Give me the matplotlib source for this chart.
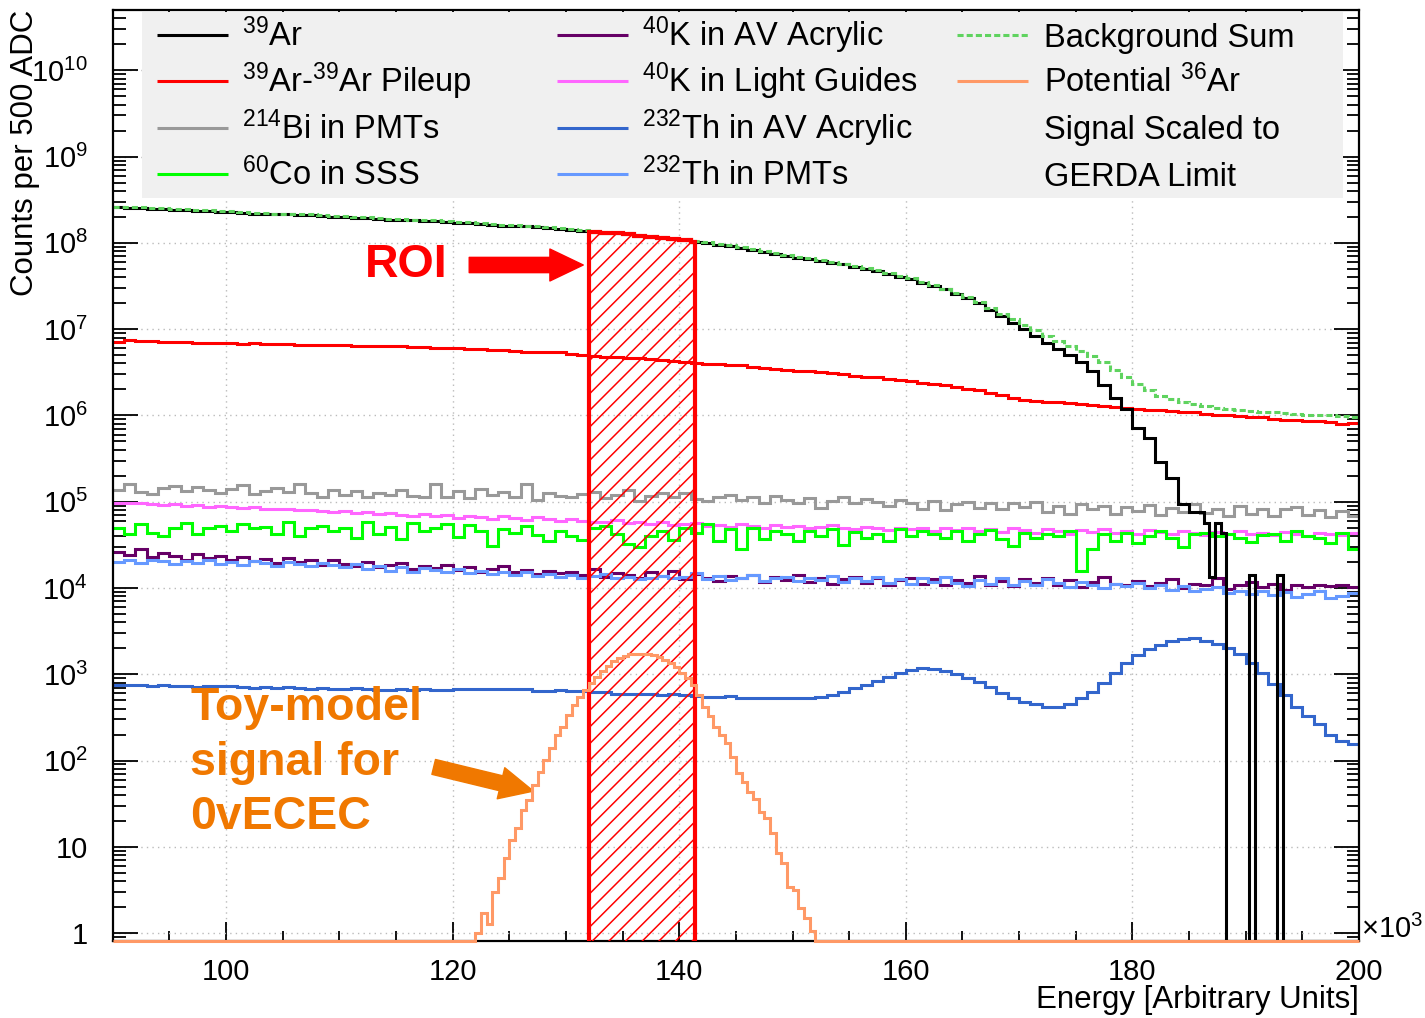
import numpy as np
import matplotlib
matplotlib.use('Agg')
import matplotlib.pyplot as plt
from matplotlib.patches import Rectangle
from matplotlib.ticker import MultipleLocator, LogLocator, FuncFormatter, NullFormatter

# Values are log10(counts per bin).
# Most spectra use 1-unit bins (x10^3) from 90 to 200.
ar39_log = [8.41, 8.40, 8.40, 8.39, 8.39, 8.38, 8.38, 8.37, 8.37, 8.36,
            8.36, 8.35, 8.34, 8.34, 8.33, 8.33, 8.32, 8.32, 8.31, 8.30,
            8.30, 8.29, 8.29, 8.28, 8.27, 8.27, 8.26, 8.25, 8.25, 8.24,
            8.23, 8.23, 8.22, 8.21, 8.20, 8.20, 8.19, 8.18, 8.17, 8.16,
            8.15, 8.14, 8.13, 8.12, 8.11, 8.10, 8.08, 8.07, 8.06, 8.04,
            8.03, 8.01, 8.00, 7.98, 7.96, 7.94, 7.92, 7.89, 7.87, 7.85,
            7.83, 7.81, 7.79, 7.77, 7.75, 7.72, 7.70, 7.67, 7.64, 7.61,
            7.58, 7.54, 7.50, 7.46, 7.41, 7.36, 7.30, 7.22, 7.15, 7.07,
            7.00, 6.92, 6.84, 6.77, 6.70, 6.62, 6.52, 6.35, 6.20, 6.08,
            5.85, 5.74, 5.46, 5.28, 4.97, 4.88]
# 39Ar tail in fine bins starting at 186.3 (nan = empty bin)
nan = np.nan
ar39_tail_log = [4.75, 4.13, 4.75, 4.64, nan, nan, nan, nan, 4.15, nan,
                 nan, nan, nan, 4.15, nan, nan, nan, nan, nan, nan,
                 nan, nan, nan, nan, nan, nan, nan, nan]

pileup_log = [6.85, 6.87, 6.86, 6.86, 6.85, 6.85, 6.85, 6.84, 6.84, 6.84,
              6.84, 6.83, 6.84, 6.83, 6.83, 6.83, 6.82, 6.82, 6.82, 6.82,
              6.82, 6.81, 6.81, 6.80, 6.80, 6.80, 6.79, 6.79, 6.78, 6.78,
              6.78, 6.77, 6.77, 6.76, 6.76, 6.75, 6.74, 6.74, 6.73, 6.73,
              6.71, 6.70, 6.69, 6.68, 6.68, 6.67, 6.66, 6.65, 6.64, 6.63,
              6.62, 6.61, 6.60, 6.60, 6.59, 6.58, 6.56, 6.55, 6.54, 6.53,
              6.52, 6.51, 6.50, 6.49, 6.48, 6.46, 6.45, 6.44, 6.42, 6.41,
              6.40, 6.38, 6.36, 6.35, 6.33, 6.31, 6.29, 6.26, 6.24, 6.20,
              6.18, 6.17, 6.16, 6.15, 6.14, 6.13, 6.12, 6.11, 6.10, 6.09,
              6.07, 6.06, 6.06, 6.05, 6.04, 6.04, 6.02, 6.01, 6.00, 5.99,
              5.98, 5.98, 5.96, 5.95, 5.95, 5.94, 5.93, 5.92, 5.90, 5.91]

bi214_pmt_log = [5.14, 5.21, 5.11, 5.09, 5.16, 5.18, 5.12, 5.17, 5.13, 5.10,
                 5.15, 5.19, 5.09, 5.12, 5.16, 5.11, 5.20, 5.10, 5.06, 5.13,
                 5.08, 5.12, 5.06, 5.10, 5.08, 5.14, 5.07, 5.05, 5.20, 5.06,
                 5.12, 5.04, 5.15, 5.08, 5.11, 5.06, 5.20, 5.02, 5.10, 5.07,
                 5.05, 5.09, 5.11, 5.04, 5.08, 5.13, 5.01, 5.07, 5.10, 5.06,
                 5.10, 5.03, 5.01, 5.06, 5.08, 5.02, 5.05, 4.99, 5.07, 5.02,
                 4.98, 5.04, 4.93, 5.01, 5.06, 4.98, 5.03, 5.00, 4.95, 5.02,
                 4.99, 4.92, 5.01, 4.90, 4.97, 5.00, 4.93, 4.98, 4.91, 4.99,
                 4.94, 5.00, 4.88, 4.95, 4.86, 4.97, 4.91, 4.95, 4.86, 4.94,
                 4.89, 4.96, 4.85, 4.93, 4.88, 4.97, 4.87, 4.92, 4.84, 4.95,
                 4.86, 4.92, 4.83, 4.91, 4.94, 4.85, 4.90, 4.82, 4.89, 4.84]

co60_sss_log = [4.70, 4.62, 4.74, 4.64, 4.60, 4.69, 4.75, 4.63, 4.70, 4.72,
                4.66, 4.74, 4.70, 4.71, 4.62, 4.77, 4.60, 4.69, 4.72, 4.66,
                4.70, 4.58, 4.76, 4.63, 4.71, 4.57, 4.75, 4.66, 4.69, 4.74,
                4.59, 4.73, 4.66, 4.49, 4.68, 4.64, 4.72, 4.61, 4.55, 4.66,
                4.60, 4.56, 4.70, 4.72, 4.62, 4.51, 4.48, 4.60, 4.66, 4.56,
                4.70, 4.64, 4.74, 4.55, 4.68, 4.45, 4.70, 4.57, 4.66, 4.62,
                4.54, 4.66, 4.60, 4.68, 4.50, 4.65, 4.58, 4.63, 4.55, 4.68,
                4.60, 4.66, 4.63, 4.58, 4.66, 4.55, 4.62, 4.67, 4.57, 4.49,
                4.64, 4.58, 4.63, 4.60, 4.66, 4.20, 4.45, 4.62, 4.55, 4.64,
                4.52, 4.60, 4.66, 4.58, 4.47, 4.62, 4.64, 4.60, 4.63, 4.58,
                4.53, 4.61, 4.63, 4.55, 4.66, 4.60, 4.58, 4.52, 4.64, 4.45]

k40_av_log = [4.42, 4.38, 4.45, 4.36, 4.40, 4.37, 4.33, 4.39, 4.35, 4.37,
              4.33, 4.36, 4.31, 4.34, 4.29, 4.35, 4.30, 4.32, 4.27, 4.33,
              4.28, 4.26, 4.30, 4.24, 4.27, 4.29, 4.22, 4.25, 4.23, 4.27,
              4.21, 4.24, 4.19, 4.22, 4.25, 4.18, 4.21, 4.16, 4.20, 4.17,
              4.19, 4.15, 4.22, 4.13, 4.17, 4.15, 4.12, 4.18, 4.14, 4.20,
              4.10, 4.16, 4.12, 4.08, 4.14, 4.11, 4.15, 4.07, 4.13, 4.09,
              4.15, 4.07, 4.12, 4.05, 4.10, 4.13, 4.06, 4.11, 4.04, 4.09,
              4.12, 4.05, 4.10, 4.03, 4.09, 4.06, 4.14, 4.04, 4.08, 4.02,
              4.10, 4.06, 4.12, 4.04, 4.09, 4.01, 4.07, 4.13, 4.05, 4.03,
              4.08, 4.02, 4.06, 4.10, 4.00, 4.05, 4.03, 4.11, 3.99, 4.04,
              4.07, 4.01, 4.05, 3.98, 4.03, 4.01, 4.04, 4.02, 4.03, 4.01]

k40_lg_log = [4.99, 4.98, 4.98, 4.97, 4.96, 4.97, 4.95, 4.96, 4.94, 4.95,
              4.94, 4.93, 4.94, 4.92, 4.91, 4.92, 4.90, 4.90, 4.89, 4.88,
              4.89, 4.87, 4.88, 4.86, 4.87, 4.85, 4.84, 4.86, 4.83, 4.85,
              4.81, 4.84, 4.82, 4.80, 4.83, 4.81, 4.79, 4.82, 4.80, 4.78,
              4.80, 4.78, 4.76, 4.77, 4.79, 4.75, 4.76, 4.74, 4.77, 4.73,
              4.74, 4.75, 4.72, 4.73, 4.71, 4.74, 4.72, 4.70, 4.73, 4.71,
              4.72, 4.69, 4.71, 4.73, 4.70, 4.68, 4.71, 4.69, 4.67, 4.70,
              4.68, 4.70, 4.66, 4.69, 4.67, 4.70, 4.66, 4.68, 4.65, 4.69,
              4.67, 4.64, 4.68, 4.66, 4.63, 4.67, 4.65, 4.68, 4.64, 4.66,
              4.63, 4.67, 4.65, 4.62, 4.66, 4.64, 4.61, 4.65, 4.63, 4.66,
              4.62, 4.64, 4.61, 4.65, 4.63, 4.60, 4.64, 4.62, 4.61, 4.64]

th232_av_log = [2.88, 2.87, 2.87, 2.86, 2.87, 2.86, 2.86, 2.85, 2.86, 2.86,
                2.86, 2.85, 2.84, 2.85, 2.84, 2.85, 2.84, 2.83, 2.84, 2.83,
                2.83, 2.84, 2.83, 2.82, 2.82, 2.83, 2.82, 2.83, 2.82, 2.82,
                2.83, 2.83, 2.83, 2.83, 2.83, 2.83, 2.83, 2.81, 2.81, 2.82,
                2.81, 2.81, 2.80, 2.79, 2.77, 2.77, 2.77, 2.77, 2.76, 2.77,
                2.76, 2.75, 2.74, 2.74, 2.75, 2.73, 2.72, 2.73, 2.72, 2.72,
                2.72, 2.73, 2.74, 2.76, 2.79, 2.84, 2.88, 2.92, 2.97, 3.02,
                3.05, 3.07, 3.06, 3.04, 3.00, 2.96, 2.91, 2.85, 2.78, 2.72,
                2.68, 2.65, 2.62, 2.62, 2.66, 2.72, 2.79, 2.90, 3.02, 3.13,
                3.22, 3.29, 3.34, 3.38, 3.41, 3.42, 3.39, 3.35, 3.30, 3.23,
                3.13, 3.02, 2.89, 2.76, 2.62, 2.52, 2.42, 2.30, 2.23, 2.19]

th232_pmt_log = [4.30, 4.32, 4.29, 4.33, 4.31, 4.28, 4.31, 4.29, 4.32, 4.28,
                 4.30, 4.27, 4.31, 4.29, 4.26, 4.30, 4.28, 4.25, 4.29, 4.27,
                 4.24, 4.28, 4.22, 4.26, 4.20, 4.24, 4.19, 4.23, 4.21, 4.18,
                 4.22, 4.17, 4.20, 4.16, 4.19, 4.15, 4.18, 4.14, 4.16, 4.13,
                 4.15, 4.12, 4.14, 4.16, 4.11, 4.13, 4.10, 4.12, 4.14, 4.11,
                 4.13, 4.17, 4.10, 4.14, 4.09, 4.12, 4.15, 4.08, 4.11, 4.13,
                 4.08, 4.12, 4.09, 4.14, 4.07, 4.11, 4.08, 4.13, 4.06, 4.10,
                 4.05, 4.11, 4.07, 4.13, 4.06, 4.02, 4.09, 4.05, 4.12, 4.04,
                 4.08, 4.03, 4.10, 4.06, 4.01, 4.07, 4.04, 4.00, 4.05, 4.02,
                 4.06, 4.00, 4.03, 3.98, 4.02, 3.96, 3.99, 4.01, 3.94, 3.97,
                 3.93, 3.96, 3.92, 3.95, 3.90, 3.93, 3.97, 3.88, 3.91, 3.94]

bkg_sum_log = [8.42, 8.41, 8.41, 8.40, 8.40, 8.39, 8.39, 8.38, 8.38, 8.37,
               8.37, 8.36, 8.35, 8.35, 8.34, 8.34, 8.33, 8.33, 8.32, 8.31,
               8.31, 8.30, 8.30, 8.29, 8.28, 8.28, 8.27, 8.26, 8.26, 8.25,
               8.24, 8.24, 8.23, 8.22, 8.21, 8.21, 8.20, 8.19, 8.18, 8.17,
               8.16, 8.15, 8.14, 8.13, 8.12, 8.11, 8.09, 8.08, 8.07, 8.05,
               8.04, 8.02, 8.01, 7.99, 7.97, 7.95, 7.93, 7.90, 7.88, 7.86,
               7.84, 7.82, 7.80, 7.78, 7.76, 7.73, 7.71, 7.68, 7.65, 7.62,
               7.59, 7.55, 7.51, 7.47, 7.42, 7.37, 7.31, 7.25, 7.18, 7.12,
               7.05, 6.99, 6.92, 6.86, 6.80, 6.75, 6.69, 6.62, 6.53, 6.44,
               6.36, 6.29, 6.23, 6.19, 6.15, 6.13, 6.11, 6.09, 6.07, 6.06,
               6.05, 6.04, 6.04, 6.03, 6.02, 6.01, 6.01, 6.00, 5.99, 5.98]

# Toy 0vECEC signal, half-unit bins starting at 122.0 (zero elsewhere)
signal_start = 122.0
signal_log = [0.00, 0.23, 0.11, 0.48, 0.64, 0.87, 1.08, 1.22, 1.43, 1.54,
              1.72, 1.87, 2.01, 2.14, 2.30, 2.39, 2.53, 2.64, 2.74, 2.82,
              2.90, 2.97, 3.04, 3.10, 3.15, 3.19, 3.21, 3.23, 3.24, 3.24,
              3.23, 3.22, 3.20, 3.17, 3.13, 3.08, 3.02, 2.96, 2.88, 2.76,
              2.62, 2.52, 2.39, 2.30, 2.20, 2.04, 1.86, 1.75, 1.64, 1.55,
              1.40, 1.33, 1.16, 0.93, 0.81, 0.53, 0.50, 0.29, 0.17, 0.03]

roi_lo, roi_hi = 132.0, 141.4
Y_MIN, Y_MAX = 0.81, 5.0e10

# legend entries, column by column (colour None = text only)
legend_labels = [
    r'$^{39}$Ar', r'$^{39}$Ar-$^{39}$Ar Pileup', r'$^{214}$Bi in PMTs', r'$^{60}$Co in SSS',
    r'$^{40}$K in AV Acrylic', r'$^{40}$K in Light Guides', r'$^{232}$Th in AV Acrylic',
    r'$^{232}$Th in PMTs',
    'Background Sum', r'Potential $^{36}$Ar', 'Signal Scaled to', 'GERDA Limit',
]
legend_colors = ['black', '#ff0000', '#999999', '#00ff00',
                 '#660066', '#ff66ff', '#3366cc', '#6699ff',
                 '#5fd35f', '#ff9966', None, None]


def to_counts(logs):
    arr = np.array(logs, dtype=float)
    counts = np.where(np.isnan(arr), 0.0, 10 ** np.nan_to_num(arr))
    # empty bins are drawn along the frame bottom, like ROOT does
    return np.maximum(counts, Y_MIN)


plt.rcParams['font.family'] = ['Liberation Sans', 'DejaVu Sans']
plt.rcParams['mathtext.fontset'] = 'custom'
plt.rcParams['mathtext.rm'] = 'Liberation Sans'
plt.rcParams['mathtext.it'] = 'Liberation Sans:italic'
plt.rcParams['mathtext.bf'] = 'Liberation Sans:bold'
plt.rcParams['hatch.color'] = 'red'
plt.rcParams['hatch.linewidth'] = 1.1

edges = np.arange(90.0, 201.0, 1.0)
ar39_edges = np.concatenate([np.arange(90.0, 186.0, 1.0), np.arange(186.3, 200.0, 0.5), [200.0]])
ar39_counts = to_counts(ar39_log + ar39_tail_log)

sig_edges = np.arange(90.0, 200.01, 0.5)
sig_counts = np.full(len(sig_edges) - 1, Y_MIN)
i_sig = int(round((signal_start - 90.0) / 0.5))
sig_counts[i_sig:i_sig + len(signal_log)] = to_counts(signal_log)

fig = plt.figure(figsize=(14.25, 10.18), dpi=100)
ax = fig.add_axes([112.8 / 1425, 77 / 1018, 1246.2 / 1425, 931 / 1018])
ax.set_yscale('log')

lw = 2.2
sum_style = (0, (2.0, 1.0))
series = [
    (bi214_pmt_log, '#999999'),
    (k40_lg_log, '#ff66ff'),
    (co60_sss_log, '#00ff00'),
    (k40_av_log, '#660066'),
    (th232_pmt_log, '#6699ff'),
    (th232_av_log, '#3366cc'),
    (pileup_log, '#ff0000'),
]
for vals, col in series:
    ax.stairs(to_counts(vals), edges, baseline=None, color=col, lw=lw)

ax.stairs(ar39_counts, ar39_edges, baseline=None, color='black', lw=lw)
ax.stairs(to_counts(bkg_sum_log), edges, baseline=None, color='#5fd35f', lw=lw,
          linestyle=sum_style)

# ROI: the 39Ar histogram inside the window, hatched
i0 = np.searchsorted(ar39_edges, roi_lo)
i1 = np.searchsorted(ar39_edges, roi_hi)
roi_edges = np.append(ar39_edges[i0:i1], roi_hi)
ax.stairs(ar39_counts[i0:i1], roi_edges, baseline=Y_MIN, fill=True, facecolor='none',
          edgecolor='red', hatch='//', lw=3.0, zorder=4)

ax.stairs(sig_counts, sig_edges, baseline=None, color='#ff9966', lw=lw, zorder=5,
          clip_on=False)

ax.set_xlim(90, 200)
ax.set_ylim(Y_MIN, Y_MAX)


def log_label(v, pos):
    n = int(round(np.log10(v)))
    if n < 0:
        return ''
    if n == 0:
        return '1'
    if n == 1:
        return '10'
    return r'$\mathregular{10^{%d}}$' % n


ax.xaxis.set_major_locator(MultipleLocator(20))
ax.xaxis.set_minor_locator(MultipleLocator(5))
ax.yaxis.set_major_locator(LogLocator(base=10, numticks=20))
ax.yaxis.set_minor_locator(LogLocator(base=10, subs=np.arange(2, 10), numticks=20))
ax.yaxis.set_major_formatter(FuncFormatter(log_label))
ax.yaxis.set_minor_formatter(NullFormatter())

ax.tick_params(axis='both', which='both', direction='in', top=True, right=True,
               width=1.3, labelsize=21)
ax.tick_params(axis='x', which='major', length=14, pad=12)
ax.tick_params(axis='x', which='minor', length=7)
ax.tick_params(axis='y', which='major', length=18, pad=18)
ax.tick_params(axis='y', which='minor', length=9)
for s in ax.spines.values():
    s.set_linewidth(1.6)
ax.grid(True, which='major', linestyle=(0, (1, 3)), color='#bbbbbb', lw=1.0)
ax.set_axisbelow(True)

ax.text(-0.0705, 1.0, 'Counts per 500 ADC', rotation=90, ha='center', va='top',
        fontsize=22.5, transform=ax.transAxes)
ax.text(1.0, -0.063, 'Energy [Arbitrary Units]', ha='right', va='center',
        fontsize=22.5, transform=ax.transAxes)
ax.text(1.002, 0.012, r'$\mathregular{\times10^{3}}$', ha='left', va='center',
        fontsize=21, transform=ax.transAxes)

# annotations
arrow_style = 'simple,head_length=1.2,head_width=1.15,tail_width=0.55'
ax.text(0.2025, 0.7261, 'ROI', color='red', fontsize=33.5, fontweight='bold',
        ha='left', va='center', transform=ax.transAxes)
ax.annotate('', xy=(0.3775, 0.7261), xytext=(0.2860, 0.7261),
            xycoords='axes fraction', textcoords='axes fraction',
            arrowprops=dict(arrowstyle=arrow_style, color='red', mutation_scale=20,
                            shrinkA=0, shrinkB=0))
ax.text(0.0620, 0.1917, 'Toy-model\nsignal for\n0vECEC', color='#f07800', fontsize=33.5,
        fontweight='bold', ha='left', va='center', linespacing=1.3,
        transform=ax.transAxes)
ax.annotate('', xy=(0.3375, 0.1610), xytext=(0.2575, 0.1870),
            xycoords='axes fraction', textcoords='axes fraction',
            arrowprops=dict(arrowstyle=arrow_style, color='#f07800', mutation_scale=20,
                            shrinkA=0, shrinkB=0))

# legend: ROOT-style grey box, 3 columns x 4 rows with aligned rows
def fx(px):
    return (px - 112.8) / 1246.2


def fy(py):
    return (941.0 - py) / 931.0


ax.add_patch(Rectangle((fx(142), fy(198)), fx(1343) - fx(142), fy(12) - fy(198),
                       transform=ax.transAxes, facecolor='#f0f0f0', edgecolor='none',
                       zorder=6))
col_line = [(157, 228), (557, 628), (957, 1028)]
col_text = [242, 642, 1044]
row_y = [35, 81, 128, 174]
for i, (label, color) in enumerate(zip(legend_labels, legend_colors)):
    c, r = divmod(i, 4)
    if color is not None:
        ls = sum_style if label == 'Background Sum' else '-'
        ax.plot([fx(col_line[c][0]), fx(col_line[c][1])], [fy(row_y[r])] * 2,
                transform=ax.transAxes, color=color, lw=lw, ls=ls, zorder=7,
                solid_capstyle='butt')
    ax.text(fx(col_text[c]), fy(row_y[r] + 11.5), label, fontsize=23.5, ha='left',
            va='baseline', transform=ax.transAxes, zorder=7)

fig.savefig('out.png', dpi=100)
